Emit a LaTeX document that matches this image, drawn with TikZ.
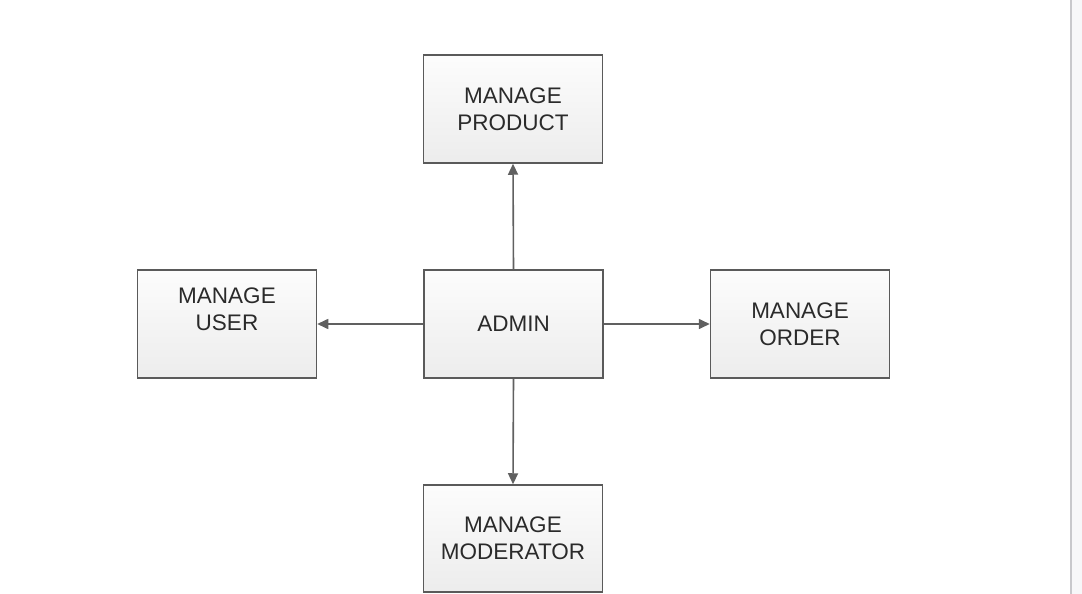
\documentclass[tikz,border=0pt]{standalone}
\usepackage{fontspec}
\setmainfont{Liberation Sans}
\usetikzlibrary{arrows.meta}
\definecolor{boxline}{HTML}{5A5A5A}
\definecolor{arrline}{HTML}{606060}
\definecolor{boxfill}{HTML}{F2F2F2}
\definecolor{txt}{HTML}{2A2A2A}
\definecolor{stripline}{HTML}{C8C8CC}
\definecolor{stripfill}{HTML}{F7F7F9}
\tikzset{
  box/.style={draw=boxline, line width=1.5pt, top color=white!80!boxfill, bottom color=boxfill!95!gray,
    minimum width=179pt, minimum height=108pt, inner sep=0pt, align=center,
    font=\fontsize{22.5}{27}\selectfont, text=txt},
  conn/.style={draw=arrline, line width=1.6pt, -{Triangle[length=11pt,width=10pt]}},
}
\begin{document}
\begin{tikzpicture}[x=1pt,y=-1pt]
\useasboundingbox (0,0) rectangle (1082,594);
\fill[white] (0,0) rectangle (1082,594);
\fill[stripfill] (1071,0) rectangle (1082,594);
\fill[stripline] (1070,0) rectangle (1072,594);
\node[box] (product) at (513,109) {MANAGE\\PRODUCT};
\node[box] (user) at (227,324) {MANAGE\\USER\\[3pt]\mbox{}};
\node[box] (admin) at (513.5,324) {ADMIN};
\node[box] (order) at (800,324) {MANAGE\\ORDER};
\node[box, minimum height=107pt] (moderator) at (513,538.5) {MANAGE\\MODERATOR};
\draw[conn] (admin.north) -- (product.south);
\draw[conn] (admin.west) -- (user.east);
\draw[conn] (admin.east) -- (order.west);
\draw[conn] (admin.south) -- (moderator.north);
\end{tikzpicture}
\end{document}
